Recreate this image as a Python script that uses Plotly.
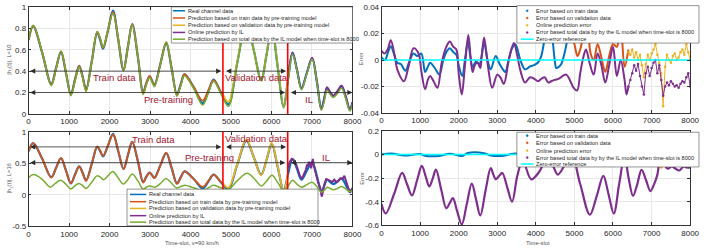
import plotly.graph_objects as go

W, H = 709, 252

# ---------------- data ----------------
# Real channel |h1(t)| (knots read at extrema and between them)
t_real = [0, 114, 330, 560, 680, 800, 920, 1045, 1150, 1250, 1335, 1420, 1560, 1695, 1770, 1840, 1960, 2085,
          2215, 2345, 2450, 2560, 2700, 2830, 2910, 2990, 3050, 3110, 3250, 3400, 3530, 3665, 3760, 3850, 4080,
          4300, 4440, 4570, 4750, 4935, 5150, 5380, 5560, 5745, 5880, 6006, 6150, 6300, 6410, 6520, 6630, 6740,
          6870, 7003, 7120, 7230, 7300, 7370, 7450, 7530, 7630, 7730, 7840, 7935, 8000]
h_real = [0.69, 0.82, 0.58, 0.28, 0.43, 0.58, 0.39, 0.18, 0.33, 0.45, 0.35, 0.23, 0.49, 0.76, 0.69, 0.61, 0.78, 0.965,
          0.69, 0.41, 0.62, 0.84, 0.53, 0.20, 0.29, 0.35, 0.31, 0.27, 0.46, 0.66, 0.43, 0.18, 0.28, 0.37, 0.25,
          0.10, 0.21, 0.32, 0.20, 0.09, 0.47, 0.86, 0.60, 0.32, 0.56, 0.81, 0.45, 0.07, 0.33, 0.57, 0.41, 0.24,
          0.38, 0.52, 0.30, 0.05, 0.14, 0.24, 0.20, 0.17, 0.21, 0.26, 0.15, 0.04, 0.11]

# Prediction on train data by pre-training model
t_ptrain = [0, 114, 330, 560, 680, 800, 920, 1045, 1150, 1250, 1335, 1420, 1560, 1695, 1770, 1840, 1960, 2085,
            2215, 2345, 2450, 2560, 2700, 2830, 2910, 2990, 3050, 3110, 3250, 3400, 3530, 3665, 3760, 3850, 4080,
            4300, 4440, 4570, 4750, 4800]
v_ptrain = [0.692, 0.82, 0.584, 0.273, 0.427, 0.584, 0.393, 0.184, 0.321, 0.448, 0.345, 0.222, 0.487, 0.767,
            0.699, 0.617, 0.78, 0.953, 0.70, 0.406, 0.619, 0.838, 0.536, 0.193, 0.289, 0.352, 0.307, 0.264,
            0.458, 0.67, 0.436, 0.175, 0.273, 0.372, 0.248, 0.125, 0.22, 0.315, 0.205, 0.183]

# Prediction on validation data by pre-training model
t_pval = [4800, 4935, 5150, 5380, 5560, 5745, 5880, 6006, 6150, 6300, 6400]
v_pval = [0.185, 0.11, 0.478, 0.875, 0.60, 0.31, 0.563, 0.822, 0.46, 0.065, 0.32]

# Online prediction by IL (L=10)
t_onl10 = [6400, 6520, 6630, 6740, 6870, 7003, 7120, 7230, 7300, 7370, 7450, 7530, 7630, 7730, 7840, 7935, 8000]
v_onl10 = [0.33, 0.575, 0.41, 0.236, 0.38, 0.525, 0.31, 0.04, 0.14, 0.25, 0.205, 0.17, 0.215, 0.265, 0.158,
           0.042, 0.11]

# Prediction on total data by IL model (L=10)
v_tot10 = [0.697, 0.828, 0.585, 0.264, 0.423, 0.588, 0.396, 0.17, 0.31, 0.438, 0.335, 0.21, 0.488, 0.77, 0.704,
           0.621, 0.785, 0.939, 0.70, 0.403, 0.617, 0.834, 0.535, 0.182, 0.272, 0.339, 0.298, 0.254, 0.454,
           0.672, 0.432, 0.166, 0.264, 0.357, 0.234, 0.083, 0.194, 0.306, 0.188, 0.071, 0.461, 0.858, 0.595,
           0.31, 0.554, 0.82, 0.444, 0.055, 0.31, 0.558, 0.404, 0.225, 0.372, 0.514, 0.298, 0.038, 0.113,
           0.222, 0.181, 0.154, 0.191, 0.24, 0.134, 0.028, 0.09]

# Online prediction by IL (L=16)
t_onl16 = [6400, 6450, 6500, 6550, 6600, 6650, 6700, 6750, 6800, 6850, 6880, 6900, 6920, 6950, 6980, 7000, 7020,
           7050, 7100, 7150, 7200, 7240, 7270, 7300, 7350, 7400, 7450, 7500, 7550, 7600, 7650, 7700, 7750, 7800,
           7850, 7900, 7950, 8000]
v_onl16 = [0.42, 0.52, 0.57, 0.55, 0.50, 0.40, 0.30, 0.25, 0.32, 0.40, 0.48, 0.45, 0.52, 0.50, 0.42, 0.55, 0.57,
           0.45, 0.30, 0.20, 0.12, -0.03, 0.05, 0.15, 0.25, 0.24, 0.22, 0.20, 0.24, 0.20, 0.22, 0.26, 0.25, 0.30,
           0.20, 0.10, 0.05, 0.10]

# Prediction on total data by IL model (L=16)
t_tot16 = [0, 114, 330, 540, 660, 790, 920, 1045, 1140, 1240, 1330, 1415, 1550, 1690, 1770, 1850, 1960, 2080,
           2210, 2340, 2450, 2560, 2700, 2830, 2910, 2990, 3050, 3120, 3260, 3390, 3520, 3650, 3760, 3860, 4080,
           4300, 4440, 4570, 4750, 4930, 5150, 5400, 5580, 5750, 5880, 6010, 6160, 6300, 6410, 6520, 6630, 6740,
           6870, 7000, 7120, 7230, 7300, 7380, 7450, 7530, 7630, 7730, 7840, 7935, 8000]
v_tot16 = [0.27, 0.32, 0.25, 0.12, 0.18, 0.23, 0.17, 0.09, 0.14, 0.18, 0.15, 0.10, 0.19, 0.30, 0.28, 0.24, 0.30,
           0.37, 0.27, 0.17, 0.24, 0.33, 0.22, 0.09, 0.12, 0.14, 0.13, 0.12, 0.18, 0.26, 0.19, 0.11, 0.13, 0.15,
           0.11, 0.07, 0.11, 0.15, 0.11, 0.08, 0.22, 0.34, 0.25, 0.14, 0.22, 0.31, 0.19, 0.06, 0.14, 0.23, 0.17,
           0.12, 0.16, 0.20, 0.13, 0.04, 0.07, 0.12, 0.10, 0.08, 0.10, 0.13, 0.09, 0.05, 0.07]

# Errors (L=10)
t_etrain = [0, 90, 170, 240, 330, 410, 500, 620, 720, 830, 930, 1030, 1130, 1200, 1260, 1380, 1500, 1600, 1680,
            1770, 1860, 1940, 2000, 2090, 2170, 2240, 2300, 2360, 2450, 2540, 2600, 2660, 2750, 2830, 2960, 3060,
            3170, 3210, 3300, 3385, 3470, 3600, 3720, 3840, 3940, 4050, 4130, 4220, 4300, 4360, 4420, 4490, 4530,
            4600, 4660, 4750, 4800]
e_train = [0.002, 0.0, 0.006, 0.0105, 0.004, -0.002, -0.003, -0.008, -0.001, 0.005, 0.003, 0.005, -0.009, -0.005,
           -0.002, -0.006, -0.011, 0.0, 0.006, 0.009, 0.006, 0.004, -0.004, -0.012, 0.002, 0.014, 0.003, -0.005,
           -0.001, -0.003, 0.004, 0.013, 0.0, -0.007, 0.003, -0.003, -0.008, -0.009, 0.001, 0.009, 0.012, 0.0,
           -0.007, -0.005, -0.004, -0.002, 0.002, 0.015, 0.03, 0.035, 0.02, 0.0, -0.006, -0.005, -0.003, 0.006,
           0.013]

t_eval = [4800, 4900, 5000, 5080, 5150, 5250, 5330, 5420, 5500, 5600, 5700, 5800, 5900, 6000, 6100, 6200, 6300,
          6400]
e_val = [0.013, 0.02, 0.012, 0.003, 0.008, 0.02, 0.025, 0.005, 0.0, 0.012, 0.002, -0.009, 0.003, 0.012, 0.01,
         0.025, -0.005, 0.008]

t_eonl = [6400, 6450, 6500, 6550, 6600, 6650, 6700, 6750, 6800, 6850, 6900, 6950, 7000, 7050, 7100, 7150, 7200,
          7250, 7300, 7350, 7400, 7450, 7500, 7550, 7600, 7650, 7700, 7750, 7800, 7850, 7900, 7950, 8000]
e_onl = [0.006, 0.004, 0.008, 0.002, 0.006, 0.0, 0.004, -0.004, -0.013, -0.003, 0.004, 0.0, 0.005, 0.008, 0.012,
         0.004, -0.002, -0.01, -0.035, -0.005, 0.004, 0.0, -0.002, 0.003, 0.005, 0.0, 0.002, 0.006, 0.008, 0.004,
         0.012, 0.006, 0.0]

t_etot = [0, 80, 160, 240, 330, 420, 580, 700, 830, 960, 1030, 1130, 1200, 1260, 1350, 1450, 1560, 1680, 1770,
          1860, 1940, 2000, 2080, 2160, 2250, 2310, 2360, 2430, 2490, 2560, 2600, 2660, 2760, 2870, 3000, 3080,
          3170, 3300, 3430, 3520, 3600, 3720, 3850, 3950, 4060, 4150, 4230, 4320, 4400, 4490, 4600, 4700, 4790,
          4880, 4980, 5070, 5150, 5230, 5300, 5400, 5500, 5600, 5700, 5800, 5900, 6000, 6100, 6200, 6300, 6350,
          6400]
e_tot = [0.007, 0.005, 0.008, 0.015, 0.005, -0.008, -0.016, -0.005, 0.009, 0.005, -0.008, -0.022, -0.015, -0.012,
         -0.016, -0.021, -0.002, 0.010, 0.014, 0.010, 0.008, -0.01, -0.026, -0.005, 0.019, 0.002, -0.009, -0.003,
         -0.002, -0.006, 0.004, 0.017, -0.005, -0.021, -0.011, -0.013, -0.018, 0.0, 0.013, 0.003, -0.008, -0.017,
         -0.013, -0.014, -0.016, -0.014, -0.013, -0.017, -0.016, -0.015, -0.014, -0.012, -0.011, -0.015, -0.021,
         -0.023, -0.01, 0.002, 0.008, -0.003, -0.011, 0.005, -0.004, -0.017, -0.004, 0.01, -0.012, 0.0, -0.015,
         -0.026, -0.02]

t_etot_il = [6400, 6450, 6500, 6550, 6600, 6650, 6700, 6750, 6800, 6850, 6900, 6950, 7000, 7050, 7100, 7150, 7200,
             7250, 7300, 7350, 7400, 7450, 7500, 7550, 7600, 7650, 7700, 7750, 7800, 7850, 7900, 7950, 8000]
e_tot_il = [-0.02, -0.015, -0.01, -0.004, -0.008, -0.003, -0.012, -0.02, -0.026, -0.01, -0.005, -0.012, -0.006,
            -0.002, 0.0, -0.01, -0.004, -0.015, -0.027, -0.02, -0.017, -0.019, -0.016, -0.018, -0.02, -0.019,
            -0.021, -0.018, -0.016, -0.017, -0.013, -0.01, -0.02]

# Errors (L=16)
t_e16tot = [0, 110, 330, 535, 660, 790, 920, 1045, 1140, 1240, 1330, 1410, 1550, 1680, 1770, 1850, 1960, 2080,
            2210, 2340, 2450, 2560, 2700, 2830, 2900, 2960, 3050, 3130, 3260, 3385, 3520, 3660, 3880, 4080, 4300,
            4450, 4570, 4750, 4930, 5150, 5400, 5580, 5750, 5880, 6020, 6160, 6300, 6400, 6520, 6630, 6740, 6860,
            6970, 7080, 7150, 7230, 7320, 7420, 7520, 7620, 7720, 7830, 7900, 8000]
e16_tot = [-0.42, -0.50, -0.33, -0.156, -0.25, -0.347, -0.22, -0.096, -0.18, -0.27, -0.20, -0.128, -0.30, -0.456,
           -0.41, -0.37, -0.48, -0.593, -0.42, -0.246, -0.38, -0.516, -0.30, -0.115, -0.17, -0.21, -0.18, -0.156,
           -0.28, -0.40, -0.18, -0.05, -0.21, -0.15, -0.03, -0.10, -0.17, -0.09, -0.01, -0.25, -0.51, -0.35,
           -0.18, -0.33, -0.50, -0.25, -0.01, -0.19, -0.35, -0.25, -0.13, -0.22, -0.31, -0.24, -0.17, -0.03,
           -0.08, -0.12, -0.10, -0.12, -0.135, -0.10, -0.11, -0.11]

t_e16train = [0, 250, 600, 1000, 1130, 1500, 1770, 2090, 2240, 2660, 2830, 3170, 3470, 3720, 4300, 4800]
e16_train = [0.0, 0.01, -0.008, 0.005, -0.01, -0.012, 0.008, -0.012, 0.014, 0.012, -0.007, -0.009, 0.01, -0.006,
             0.01, 0.005]
t_e16val = [4800, 5100, 5400, 5700, 6000, 6400]
e16_val = [0.005, -0.01, 0.01, -0.005, 0.01, 0.0]
t_e16onl = [6400, 6500, 6600, 6700, 6800, 6900, 7000, 7100, 7200, 7250, 7300, 7400, 7500, 7600, 7700, 7800, 7900,
            8000]
e16_onl = [0.02, -0.01, 0.03, -0.02, 0.01, 0.05, -0.03, 0.02, -0.04, -0.11, -0.02, 0.01, -0.01, 0.02, -0.01, 0.03,
           0.0, 0.0]

x_ticks = [0, 1000, 2000, 3000, 4000, 5000, 6000, 7000, 8000]
x_ticktext = ['0', '1000', '2000', '3000', '4000', '5000', '6000', '7000', '8000']
y1_ticks = [0, 0.2, 0.4, 0.6, 0.8, 1]
y1_text = ['0', '0.2', '0.4', '0.6', '0.8', '1']
y2_ticks = [-0.04, -0.02, 0, 0.02, 0.04]
y2_text = ['-0.04', '-0.02', '0', '0.02', '0.04']
y3_ticks = [-0.5, 0, 0.5, 1]
y3_text = ['-0.5', '0', '0.5', '1']
y4_ticks = [-0.6, -0.4, -0.2, 0, 0.2]
y4_text = ['-0.6', '-0.4', '-0.2', '0', '0.2']

legend_left = ['Real channel data', 'Prediction based on train data by pre-training model',
               'Prediction based on validation data by pre-training model', 'Online prediction by IL',
               'Prediction based on total data by the IL model when time-slot is 8000']
legend_right = ['Error based on train data', 'Error based on validation data', 'Online prediction error',
                'Error based total data by by the IL model when time-slot is 8000', 'Zero-error reference']

# ---------------- style ----------------
BLUE = '#0072BD'; RED = '#D95319'; YEL = '#EDB120'; PUR = '#7E2F8E'; GRN = '#77AC30'
CYAN = '#00FFFF'; CRIM = '#A2142F'; RLINE = '#FF0000'
FONT = 'Liberation Sans'

fig = go.Figure()


def line(x, y, color, width, ax, shape='spline', mode='lines', msize=3):
    fig.add_trace(go.Scatter(x=x, y=y, mode=mode, xaxis=ax[0], yaxis=ax[1],
                             line=dict(color=color, width=width, shape=shape, smoothing=1),
                             marker=dict(color=color, size=msize), hoverinfo='skip'))


# top-left
A = ('x', 'y')
line(t_real, h_real, BLUE, 2.2, A)
line(t_ptrain, v_ptrain, RED, 1.8, A)
line(t_pval, v_pval, YEL, 1.8, A)
line(t_onl10, v_onl10, PUR, 1.8, A)
line(t_real, v_tot10, GRN, 1.5, A)

# top-right
B = ('x2', 'y2')
line(t_etrain, e_train, BLUE, 2.0, B)
line(t_eval, e_val, RED, 2.0, B)
line(t_eonl, e_onl, YEL, 1.0, B, shape='linear', mode='lines+markers', msize=2.5)
line(t_etot, e_tot, PUR, 2.0, B)
line(t_etot_il, e_tot_il, PUR, 1.0, B, shape='linear', mode='lines+markers', msize=2.5)
line([0, 8000], [0, 0], CYAN, 1.5, B, shape='linear')

# bottom-left
C = ('x3', 'y3')
line(t_real, h_real, BLUE, 2.2, C)
line(t_ptrain, v_ptrain, RED, 1.8, C)
line(t_pval, v_pval, YEL, 1.8, C)
line(t_onl16, v_onl16, PUR, 2.0, C, shape='linear')
line(t_tot16, v_tot16, GRN, 1.5, C)

# bottom-right
D = ('x4', 'y4')
line(t_e16train, e16_train, BLUE, 2.0, D)
line(t_e16val, e16_val, RED, 2.0, D)
line(t_e16onl, e16_onl, YEL, 1.0, D, shape='linear', mode='lines+markers', msize=2.5)
line(t_e16tot, e16_tot, PUR, 2.2, D)
line([0, 8000], [0, 0], CYAN, 1.5, D, shape='linear')


def px(x):
    return x / W


def py(y):
    return 1 - y / H


def axis(domain, rng, tv, tt, anchor):
    return dict(domain=domain, range=rng, tickvals=tv, ticktext=tt, anchor=anchor,
                showgrid=True, gridcolor='#e8e8e8', gridwidth=0.6, zeroline=False,
                showline=True, linecolor='#333333', linewidth=0.7, mirror='ticks',
                ticks='inside', ticklen=3, tickwidth=0.6, tickcolor='#333333',
                tickfont=dict(size=8, color='#262626', family=FONT))


XL = [px(27), px(356)]
XR = [px(385.5), px(699)]
YT = [py(114), py(3)]
YB = [py(230.5), py(132.5)]

layout = dict(width=W, height=H, margin=dict(l=0, r=0, t=0, b=0), showlegend=False,
              plot_bgcolor='white', paper_bgcolor='white', font=dict(family=FONT))
layout['xaxis'] = axis(XL, [0, 8000], x_ticks, x_ticktext, 'y')
layout['yaxis'] = axis(YT, [0, 1], y1_ticks, y1_text, 'x')
layout['xaxis2'] = axis(XR, [0, 8000], x_ticks, x_ticktext, 'y2')
layout['yaxis2'] = axis([py(113), py(3.3)], [-0.04, 0.04], y2_ticks, y2_text, 'x2')
layout['xaxis3'] = axis(XL, [0, 8000], x_ticks, x_ticktext, 'y3')
layout['yaxis3'] = axis(YB, [-0.5, 1], y3_ticks, y3_text, 'x3')
layout['xaxis4'] = axis(XR, [0, 8000], x_ticks, x_ticktext, 'y4')
layout['yaxis4'] = axis([py(229.5), py(131.7)], [-0.6, 0.2], y4_ticks, y4_text, 'x4')
fig.update_layout(**layout)

shapes = []
annots = []

# red boundary lines
for xa, ya in (('x', 'y'), ('x3', 'y3')):
    for xv in (4800, 6400):
        shapes.append(dict(type='line', xref=xa, yref=ya + ' domain', x0=xv, x1=xv, y0=0, y1=1,
                           line=dict(color=RLINE, width=1.6), layer='above'))


def darrow(xa, ya, x0, x1, y):
    annots.append(dict(xref=xa, yref=ya, axref=xa, ayref=ya, x=x1, y=y, ax=x0, ay=y, text='',
                       showarrow=True, arrowside='end+start', arrowhead=2, arrowsize=1.3,
                       arrowwidth=0.8, arrowcolor='#2b2b2b', standoff=0, startstandoff=0))


def label(xa, ya, x, y, s):
    annots.append(dict(xref=xa, yref=ya, x=x, y=y, text=s, showarrow=False, xanchor='center',
                       yanchor='middle', font=dict(size=9.5, color=CRIM, family=FONT)))


darrow('x', 'y', 0, 4760, 0.4)
darrow('x', 'y', 4840, 6360, 0.4)
darrow('x', 'y', 0, 6340, 0.2)
darrow('x', 'y', 6440, 8000, 0.2)
label('x', 'y', 2130, 0.34, 'Train data')
label('x', 'y', 5625, 0.34, 'Validation data')
label('x', 'y', 3460, 0.135, 'Pre-training')
label('x', 'y', 6920, 0.135, 'IL')

darrow('x3', 'y3', 0, 4760, 0.76)
darrow('x3', 'y3', 4840, 6360, 0.76)
darrow('x3', 'y3', 0, 6340, 0.51)
darrow('x3', 'y3', 6440, 8000, 0.51)
label('x3', 'y3', 3097, 0.87, 'Train data')
label('x3', 'y3', 5625, 0.9, 'Validation data')
label('x3', 'y3', 4467, 0.59, 'Pre-training')
label('x3', 'y3', 7343, 0.59, 'IL')


def legend_box(box, ys, names, colors, kinds, sx0, sx1, tx):
    x0, y0, x1, y1 = box
    shapes.append(dict(type='rect', xref='paper', yref='paper', x0=px(x0), x1=px(x1), y0=py(y1), y1=py(y0),
                       fillcolor='white', line=dict(color='#4d4d4d', width=0.6), layer='above'))
    for yy, nm, c, k in zip(ys, names, colors, kinds):
        if k == 'line':
            shapes.append(dict(type='line', xref='paper', yref='paper', x0=px(sx0), x1=px(sx1),
                               y0=py(yy), y1=py(yy), line=dict(color=c, width=1.5), layer='above'))
        else:
            cx = (sx0 + sx1) / 2
            shapes.append(dict(type='circle', xref='paper', yref='paper', x0=px(cx - 1.1), x1=px(cx + 1.1),
                               y0=py(yy + 1.1), y1=py(yy - 1.1), fillcolor=c, line=dict(color=c, width=0.3),
                               layer='above'))
        annots.append(dict(xref='paper', yref='paper', x=px(tx), y=py(yy), xanchor='left', yanchor='middle',
                           text=nm, showarrow=False, borderpad=0,
                           font=dict(size=5.6, color='#262626', family=FONT)))


left_cols = [BLUE, RED, YEL, PUR, GRN]
right_cols = [BLUE, RED, YEL, PUR, CYAN]
legend_box((172, 3, 356, 40.5), [7, 14.5, 22, 29.5, 36.5], legend_left, left_cols, ['line'] * 5, 173.5, 186, 187.5)
legend_box((127, 192, 321, 230), [197.5, 205, 212, 219.5, 226.2], legend_left, left_cols, ['line'] * 5,
           130, 146.5, 148)
legend_box((523, 1.7, 708, 40.5), [7, 14.5, 22, 29.5, 36.5], legend_right, right_cols,
           ['dot', 'dot', 'dot', 'dot', 'line'], 527, 540, 541.5)
legend_box((523, 133, 708, 169), [136.5, 144, 152, 159.3, 166], legend_right, right_cols,
           ['dot', 'dot', 'dot', 'dot', 'line'], 527, 540, 541.5)


def title(x, y, s, angle=0):
    annots.append(dict(xref='paper', yref='paper', x=px(x), y=py(y), text=s, showarrow=False,
                       xanchor='center', yanchor='middle', textangle=angle, borderpad=0,
                       font=dict(size=5.8, color='#555555', family=FONT)))


title(8, 58, '|h<sub>1</sub>(t)|, L=10', -90)
title(8, 181, '|h<sub>1</sub>(t)|, L=16', -90)
title(365, 57, 'Error', -90)
title(365, 181, 'Error', -90)
title(192.5, 247.5, 'Time-slot, v=90 km/h')
title(544, 247.5, 'Time-slot')

fig.update_layout(shapes=shapes, annotations=annots)
fig.write_html('out.html', config={'displayModeBar': False},
               post_script="document.body.style.margin='0';document.body.style.overflow='hidden';")
